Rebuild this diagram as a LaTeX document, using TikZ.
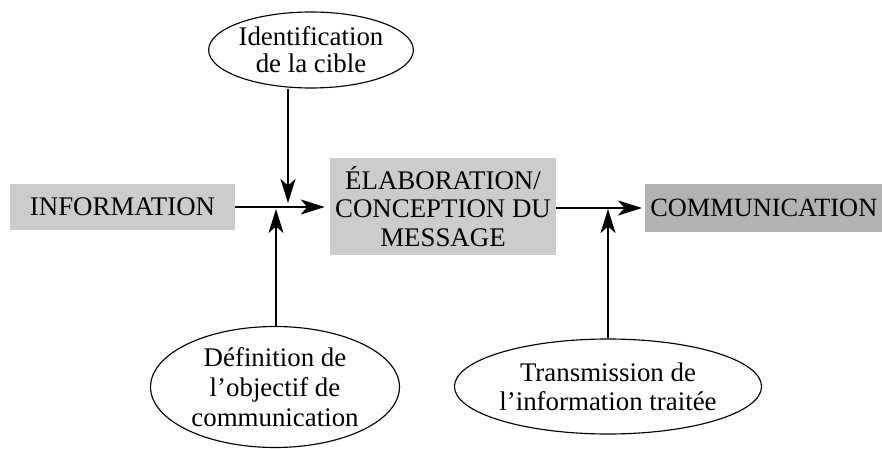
\documentclass[tikz,border=0pt]{standalone}
\usepackage{fontspec}
\setmainfont{Liberation Serif}
\usepackage{tikz}
\usetikzlibrary{arrows.meta}
\usetikzlibrary{shapes.geometric}

\begin{document}
\begin{tikzpicture} [x = 0.02cm, y = -0.02cm,
    txt/.style = {font = \fontsize{15.3}{17}\selectfont, align = center},
    grisbox/.style = {txt, fill = black!20, inner sep = 0pt},
    bulle/.style = {txt, draw, ellipse, line width = 0.65pt, inner sep = 0pt},
    fleche/.style = {line width = 1.3pt, -{Stealth[length = 0.48cm, width = 0.3cm, inset = 0.13cm]}}]
    \clip (0,0) rectangle (882,449);
    \node [grisbox, minimum width = 4.5cm, minimum height = 0.94cm] (info) at (122.5,207) {INFORMATION};
    \node [grisbox, minimum width = 4.52cm, minimum height = 1.94cm,
           font = \fontsize{15.3}{16.2}\selectfont] (message) at (443,206.5)
          {ÉLABORATION/\\CONCEPTION DU\\MESSAGE};
    \node [grisbox, fill = black!30, anchor = west, inner xsep = 0.1cm,
           minimum height = 0.96cm, font = \fontsize{15}{17}\selectfont] (comm) at (645,208) {COMMUNICATION};
    \node [bulle, minimum width = 3.66cm, minimum height = 1.52cm,
           font = \fontsize{15.3}{15.4}\selectfont] (cible) at (311,50)
          {Identification\\de la cible};
    \node [bulle, minimum width = 4.98cm, minimum height = 2.42cm,
           font = \fontsize{15.3}{17}\selectfont] (objectif) at (275,387)
          {Définition de\\l’objectif de\\communication};
    \node [bulle, minimum width = 5cm, minimum height = 1.9cm,
           font = \fontsize{15.3}{16.5}\selectfont] (transmission) at (608,386.5)
          {Transmission de\\l’information traitée};
    \coordinate (haut) at (288,203);
    \coordinate (bas) at (276,209);
    \coordinate (droite) at (608,209);
    \draw [fleche, shorten > = 2.8pt] (info.east) -- (info.east -| message.west);
    \draw [fleche, shorten > = 1.7pt] (message.east |- comm) -- (comm.west);
    \draw [fleche] (cible.south -| haut) -- (haut);
    \draw [fleche] (objectif.north -| bas) -- (bas);
    \draw [fleche] (transmission.north) -- (droite);
  \end{tikzpicture}
\end{document}
